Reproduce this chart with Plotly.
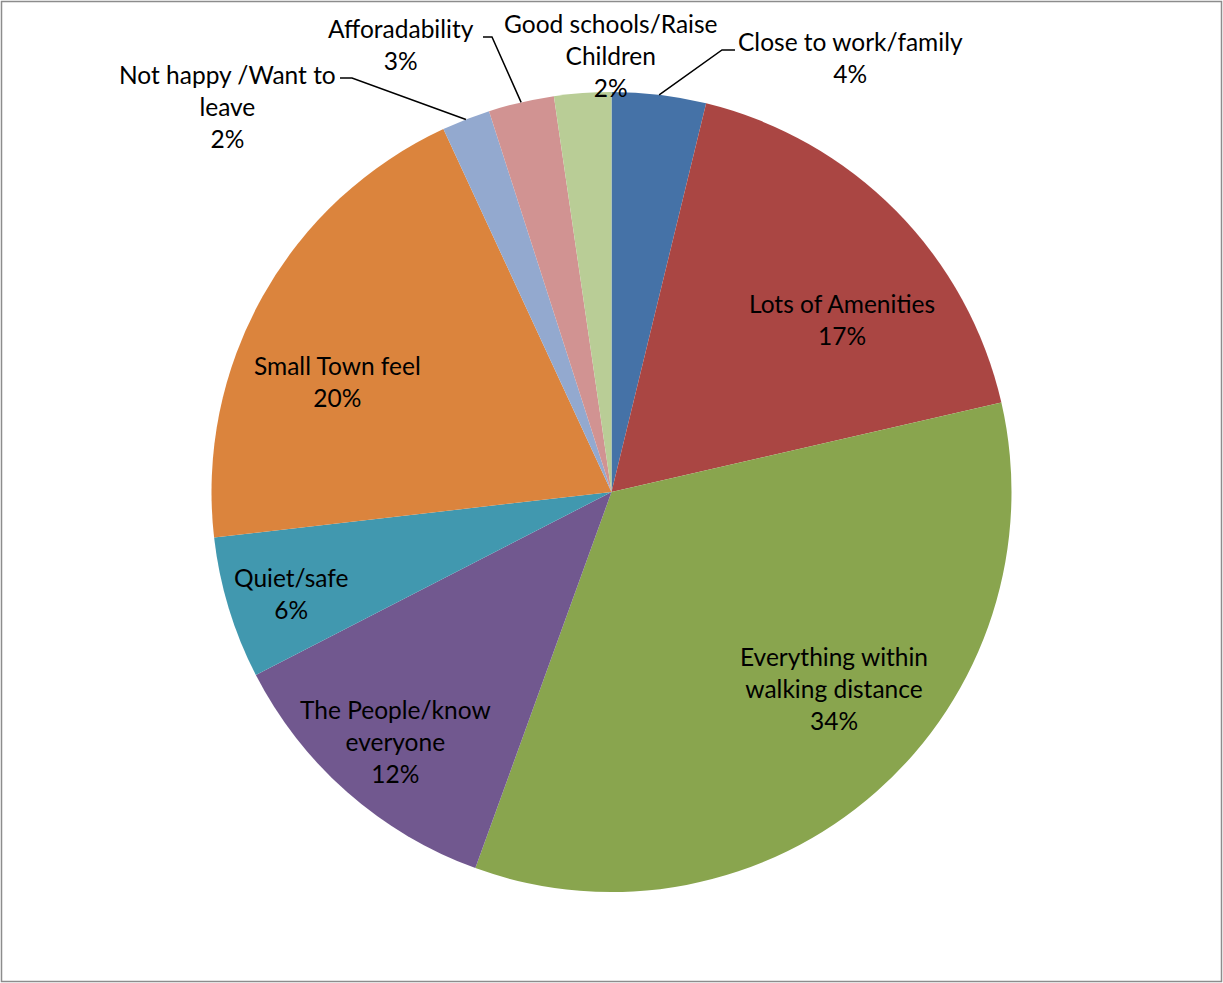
import math
import plotly.graph_objects as go

labels = ["Close to work/family", "Lots of Amenities", "Everything within walking distance",
          "The People/know everyone", "Quiet/safe", "Small Town feel",
          "Not happy /Want to leave", "Afforadability", "Good schools/Raise Children"]
display_labels = ["Close to work/family", "Lots of Amenities", "Everything within<br>walking distance",
                  "The People/know<br>everyone", "Quiet/safe", "Small Town feel",
                  "Not happy /Want to<br>leave", "Afforadability", "Good schools/Raise<br>Children"]
# slice shares (percent)
values = [3.8, 17.6, 34.1, 11.9, 5.75, 19.9, 1.95, 2.65, 2.3]
# percentage labels as printed on the chart
pct_text = ["4%", "17%", "34%", "12%", "6%", "20%", "2%", "3%", "2%"]
colors = ["#4572A7", "#AA4643", "#89A54E", "#71588F", "#4198AF", "#DB843D",
          "#93A9CF", "#D19392", "#B9CD96"]

W, H = 1223, 983
FONT = "Lato"
FS = 24.5

# pie domain in pixels
dx0, dx1, dy0, dy1 = 211.5, 1011.5, 92, 892
cxp, cyp = (dx0 + dx1) / 2, (dy0 + dy1) / 2
R = (dx1 - dx0) / 2

total = sum(values)

fig = go.Figure(go.Pie(
    labels=labels, values=values, sort=False, direction="clockwise", rotation=0,
    marker=dict(colors=colors, line=dict(width=0)),
    textinfo="none",
    hoverinfo="label+percent",
    domain=dict(x=[dx0 / W, dx1 / W], y=[1 - dy1 / H, 1 - dy0 / H]),
    showlegend=False,
))

def px(x, y):
    return x / W, 1 - y / H

# label layout: (text center px, elbow px, line end px) -- layout only
label_layout = {
    0: ((850, 57), (722, 50), (735, 50)),
    1: ((842, 319), None, None),
    2: ((834, 688), None, None),
    3: ((395, 741), None, None),
    4: ((291, 593), None, None),
    5: ((337, 381), None, None),
    6: ((227, 107), (352, 78), (340, 78)),
    7: ((401, 45), (492, 37), (483, 37)),
    8: ((611, 56), None, None),
}

annotations = []
shapes = []
cum = 0
for i, v in enumerate(values):
    mid = (cum + v / 2) / total * 2 * math.pi
    cum += v
    (tx, ty), elbow, end = label_layout[i]
    x, y = px(tx, ty)
    annotations.append(dict(
        x=x, y=y, xref="paper", yref="paper", showarrow=False,
        text=f"{display_labels[i]}<br>{pct_text[i]}",
        font=dict(family=FONT, size=FS, color="black"),
        xanchor="center", yanchor="middle", align="center"))
    if elbow is not None:
        tipx = cxp + R * math.sin(mid)
        tipy = cyp - R * math.cos(mid)
        p = [px(tipx, tipy), px(*elbow), px(*end)]
        path = "M {} {} L {} {} L {} {}".format(p[0][0], p[0][1], p[1][0], p[1][1], p[2][0], p[2][1])
        shapes.append(dict(type="path", xref="paper", yref="paper", path=path,
                           line=dict(color="black", width=1.5)))

shapes.append(dict(type="rect", xref="paper", yref="paper",
                   x0=1.5 / W, x1=1 - 1.5 / W, y0=1.5 / H, y1=1 - 1.5 / H,
                   line=dict(color="#8c8c8c", width=1.5)))

fig.update_layout(
    width=W, height=H, margin=dict(l=0, r=0, t=0, b=0),
    paper_bgcolor="white", plot_bgcolor="white",
    annotations=annotations, shapes=shapes,
    font=dict(family=FONT, size=FS, color="black"),
)
fig.write_html("out.html", config={"displayModeBar": False},
               post_script="document.body.style.margin='0';document.body.style.overflow='hidden';")
